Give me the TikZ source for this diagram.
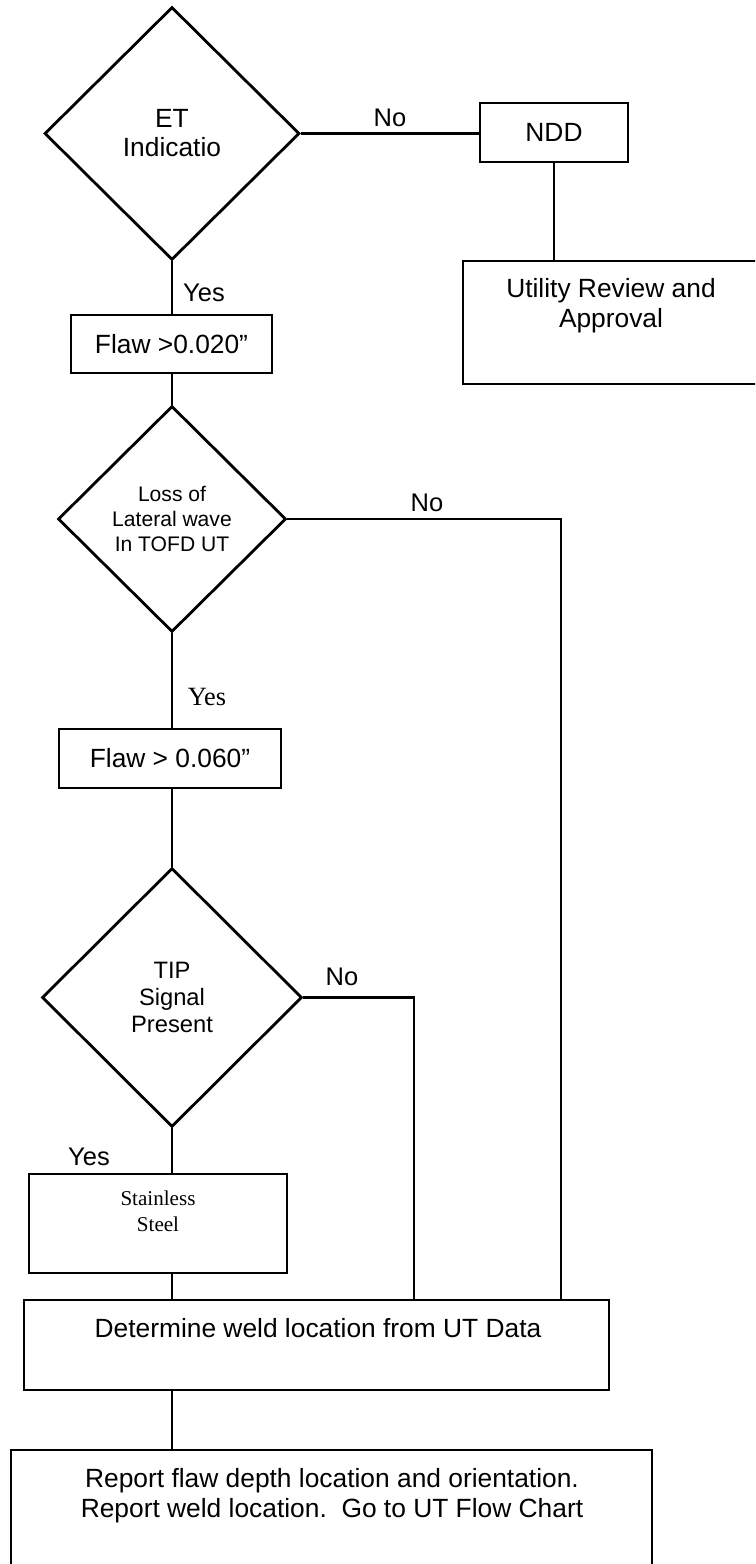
\documentclass[tikz,border=0pt]{standalone}
\usepackage{fontspec}
\setmainfont{Liberation Sans}
\newfontfamily\timesfont{Liberation Serif}
\usetikzlibrary{shapes.geometric}

\tikzset{
  flowline/.style={line width=1.6pt},
  box/.style={draw, line width=1.6pt, inner sep=0pt, align=center,
              font=\fontsize{15}{17}\selectfont},
  decision/.style={draw, diamond, line width=1.6pt, inner sep=0pt, align=center},
  boxtext/.style={inner sep=0pt, align=center, anchor=north,
                  font=\fontsize{15}{17}\selectfont},
  answer/.style={inner sep=0pt, font=\fontsize{14.5}{17}\selectfont},
}

\begin{document}
\begin{tikzpicture}[x=0.02cm, y=-0.02cm]
  \useasboundingbox (0,0) rectangle (755,1564);
  \clip (0,0) rectangle (755,1564);

  % decisions
  \node[decision, minimum width=5.1cm, minimum height=5.06cm,
        font=\fontsize{15}{16.5}\selectfont] (etind) at (172,133.5) {ET\\Indicatio};
  \node[decision, minimum width=4.56cm, minimum height=4.52cm,
        font=\fontsize{12}{14.2}\selectfont] (tofd) at (172,519) {Loss of\\Lateral wave\\In TOFD UT};
  \node[decision, minimum width=5.2cm, minimum height=5.18cm,
        font=\fontsize{13.5}{15.6}\selectfont] (tip) at (172,997.5) {TIP\\Signal\\Present};

  % boxes
  \node[box, minimum width=2.96cm, minimum height=1.18cm] (ndd) at (554,132.5) {NDD};
  \node[box, minimum width=5.92cm, minimum height=2.46cm] (utility) at (611,322.5) {};
  \node[boxtext] (utility-txt) at (611,278) {Utility Review and\\Approval};
  \node[box, minimum width=4.02cm, minimum height=1.16cm] (flawa) at (171.5,344) {Flaw >0.020”};
  \node[box, minimum width=4.44cm, minimum height=1.18cm] (flawb) at (170,758.5) {Flaw > 0.060”};
  \node[box, minimum width=5.16cm, minimum height=1.98cm] (steel) at (158,1223.5) {};
  \node[boxtext, font=\timesfont\fontsize{12}{14.7}\selectfont] (steel-txt) at (158,1191) {Stainless\\Steel};
  \node[box, minimum width=11.7cm, minimum height=1.8cm] (determine) at (316.5,1345) {};
  \node[boxtext] (determine-txt) at (318,1318) {Determine weld location from UT Data};
  \node[box, minimum width=12.82cm, minimum height=3cm] (report) at (331.5,1525) {};
  \node[boxtext] (report-txt) at (332,1468) {Report flaw depth location and orientation.\\
        Report weld location.\ \ Go to UT Flow Chart};

  % answers
  \node[answer] (no-et) at (390,118) {No};
  \node[answer] (yes-et) at (204,293) {Yes};
  \node[answer] (no-tofd) at (427,503) {No};
  \node[answer, font=\timesfont\fontsize{15}{17}\selectfont] (yes-tofd) at (207,697) {Yes};
  \node[answer] (no-tip) at (342,977) {No};
  \node[answer] (yes-tip) at (89,1157) {Yes};

  % connectors
  \coordinate (tofdbend) at (561,519);
  \coordinate (tipbend) at (414,997.5);
  \draw[flowline] (etind.east) -- (etind.east -| ndd.west);
  \draw[flowline] (ndd.south) -- (ndd.south |- utility.north);
  \draw[flowline] (etind.south) -- (etind.south |- flawa.north);
  \draw[flowline] (tofd.north |- flawa.south) -- (tofd.north);
  \draw[flowline] (tofd.south) -- (tofd.south |- flawb.north);
  \draw[flowline] (tip.north |- flawb.south) -- (tip.north);
  \draw[flowline] (tip.south) -- (tip.south |- steel.north);
  \draw[flowline] (tip.south |- steel.south) -- (tip.south |- determine.north);
  \draw[flowline] (tip.south |- determine.south) -- (tip.south |- report.north);
  \draw[flowline] (tofd.east) -- (tofdbend) -- (tofdbend |- determine.north);
  \draw[flowline] (tip.east) -- (tipbend) -- (tipbend |- determine.north);
\end{tikzpicture}
\end{document}
